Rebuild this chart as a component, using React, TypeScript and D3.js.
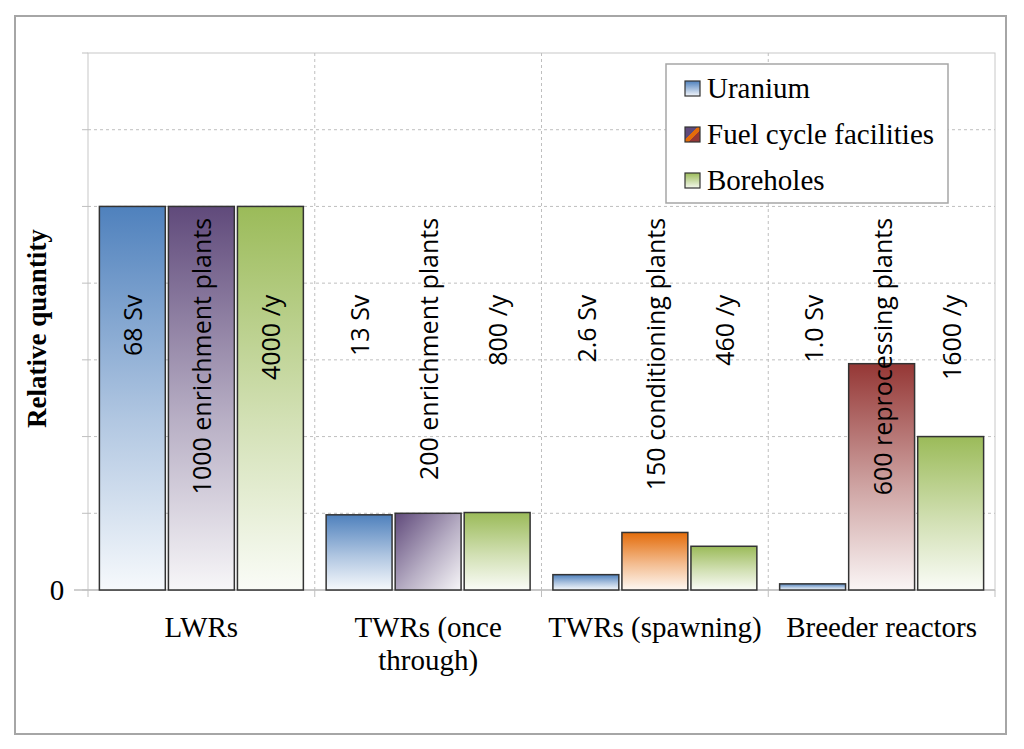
import * as d3 from "d3";

const W = 1024;
const H = 749;

const categories = ["LWRs", "TWRs (once through)", "TWRs (spawning)", "Breeder reactors"];
const categoryLines = [["LWRs"], ["TWRs (once", "through)"], ["TWRs (spawning)"], ["Breeder reactors"]];
const seriesNames = ["Uranium", "Fuel cycle facilities", "Boreholes"];

// relative quantities (gridline units)
const uranium = [5, 0.98, 0.2, 0.08];
const fuelCycle = [5, 1.0, 0.75, 2.95];
const boreholes = [5, 1.01, 0.57, 2.0];

const uraniumLabels = ["68 Sv", "13 Sv", "2.6 Sv", "1.0 Sv"];
const fuelLabels = ["1000 enrichment plants", "200 enrichment plants", "150 conditioning plants", "600 reprocessing plants"];
const boreholeLabels = ["4000 /y", "800 /y", "460 /y", "1600 /y"];

const yTicks = [0, 1, 2, 3, 4, 5, 6, 7];

const fuelColors = ["#604a7b", "#604a7b", "#e46c0a", "#953735"];
const uraniumColor = "#4f81bd";
const boreholeColor = "#9bbb59";

const serif = "'Liberation Serif', 'Times New Roman', serif";
const sans = "'Open Sans', 'Noto Sans', sans-serif";

export default function App() {
  const left = 88;
  const right = 995;
  const top = 53;
  const bottom = 590;

  const x0 = d3.scaleBand<string>().domain(categories).range([left, right]);
  const x1 = d3
    .scaleBand<string>()
    .domain(seriesNames)
    .range([0, x0.bandwidth()])
    .paddingInner(0.045)
    .paddingOuter(0.165);
  const y = d3.scaleLinear().domain([0, 7]).range([bottom, top]);

  const series = [
    { name: seriesNames[0], values: uranium, labels: uraniumLabels, labelTop: 3.85 },
    { name: seriesNames[1], values: fuelCycle, labels: fuelLabels, labelTop: 4.85 },
    { name: seriesNames[2], values: boreholes, labels: boreholeLabels, labelTop: 3.85 },
  ];

  const gradId = (s: number, c: number) => `g-${s}-${c}`;
  const colorFor = (s: number, c: number) =>
    s === 0 ? uraniumColor : s === 2 ? boreholeColor : fuelColors[c];
  const fade = (col: string) => d3.interpolateRgb(col, "#ffffff")(0.95);

  return (
    <svg
      width={W}
      height={H}
      style={{ position: "absolute", left: 0, top: 0, background: "#fff" }}
    >
      <defs>
        {series.map((s, si) =>
          categories.map((_, ci) => {
            const col = colorFor(si, ci);
            const diag = si === 1 && ci === 1;
            return (
              <linearGradient
                key={gradId(si, ci)}
                id={gradId(si, ci)}
                x1="0"
                y1="0"
                x2={diag ? "1" : "0"}
                y2="1"
              >
                <stop offset="0%" stopColor={col} />
                <stop offset="55%" stopColor={d3.interpolateRgb(col, "#ffffff")(0.55)} />
                <stop offset="100%" stopColor={fade(col)} />
              </linearGradient>
            );
          }),
        )}
        <linearGradient id="leg-u" x1="0" y1="0" x2="0" y2="1">
          <stop offset="0%" stopColor={uraniumColor} />
          <stop offset="100%" stopColor="#f3f6fb" />
        </linearGradient>
        <linearGradient id="leg-b" x1="0" y1="0" x2="0" y2="1">
          <stop offset="0%" stopColor={boreholeColor} />
          <stop offset="100%" stopColor="#f5f9ee" />
        </linearGradient>
        <linearGradient id="leg-f" x1="0" y1="0" x2="1" y2="1">
          <stop offset="0%" stopColor="#604a7b" />
          <stop offset="40%" stopColor="#604a7b" />
          <stop offset="40%" stopColor="#e46c0a" />
          <stop offset="62%" stopColor="#e46c0a" />
          <stop offset="62%" stopColor="#953735" />
          <stop offset="100%" stopColor="#953735" />
        </linearGradient>
      </defs>

      {/* outer frame */}
      <rect x={15} y={16} width={991} height={718} fill="#fff" stroke="#a6a6a6" strokeWidth={2} />

      {/* plot area border */}
      <rect x={left} y={top} width={right - left} height={bottom - top} fill="none" stroke="#c8c8c8" strokeWidth={1} />

      {/* horizontal gridlines */}
      {yTicks.slice(1, -1).map((t) => (
        <line
          key={`hg-${t}`}
          x1={left}
          x2={right}
          y1={y(t)}
          y2={y(t)}
          stroke="#bfbfbf"
          strokeDasharray="3,3"
        />
      ))}
      {/* vertical gridlines */}
      {categories.slice(1).map((c) => (
        <line
          key={`vg-${c}`}
          x1={x0(c)!}
          x2={x0(c)!}
          y1={top}
          y2={bottom}
          stroke="#bfbfbf"
          strokeDasharray="3,3"
        />
      ))}

      {/* y ticks */}
      {yTicks.map((t) => (
        <line key={`yt-${t}`} x1={82} x2={left} y1={y(t)} y2={y(t)} stroke="#bfbfbf" />
      ))}
      <text x={57} y={y(0)} dy="0.35em" textAnchor="middle" fontFamily={serif} fontSize={29}>
        0
      </text>

      {/* x axis */}
      <line x1={74} x2={right} y1={bottom} y2={bottom} stroke="#bfbfbf" strokeWidth={1.5} />
      {[...categories.map((c) => x0(c)!), right].map((xv, i) => (
        <line key={`xt-${i}`} x1={xv} x2={xv} y1={bottom} y2={bottom + 7} stroke="#bfbfbf" />
      ))}

      {/* bars */}
      {series.map((s, si) =>
        categories.map((c, ci) => {
          const bx = x0(c)! + x1(s.name)!;
          const by = y(s.values[ci]);
          return (
            <rect
              key={`bar-${si}-${ci}`}
              x={bx}
              y={by}
              width={x1.bandwidth()}
              height={y(0) - by}
              fill={`url(#${gradId(si, ci)})`}
              stroke="#333"
              strokeWidth={1.5}
            />
          );
        }),
      )}

      {/* rotated value labels */}
      {series.map((s, si) =>
        categories.map((c, ci) => {
          const cx = x0(c)! + x1(s.name)! + x1.bandwidth() / 2;
          const ty = y(s.labelTop);
          return (
            <text
              key={`lab-${si}-${ci}`}
              transform={`translate(${cx},${ty}) rotate(-90)`}
              textAnchor="end"
              dominantBaseline="central"
              fontFamily={sans}
              fontSize={25}
              fill="#000"
            >
              {s.labels[ci]}
            </text>
          );
        }),
      )}

      {/* category labels */}
      {categories.map((c, ci) => (
        <text
          key={`cat-${c}`}
          x={x0(c)! + x0.bandwidth() / 2}
          y={637}
          textAnchor="middle"
          fontFamily={serif}
          fontSize={29}
        >
          {categoryLines[ci].map((ln, li) => (
            <tspan key={li} x={x0(c)! + x0.bandwidth() / 2} dy={li === 0 ? 0 : 33}>
              {ln}
            </tspan>
          ))}
        </text>
      ))}

      {/* y axis title */}
      <text
        transform={`translate(37,${(top + bottom) / 2 + 7}) rotate(-90)`}
        textAnchor="middle"
        dominantBaseline="central"
        fontFamily={serif}
        fontSize={27}
        fontWeight="bold"
      >
        Relative quantity
      </text>

      {/* legend */}
      <g>
        <rect x={666} y={64} width={282} height={139} fill="#fff" stroke="#a6a6a6" strokeWidth={1.5} />
        {seriesNames.map((n, i) => {
          const ly = 88 + i * 46;
          const fill = i === 0 ? "url(#leg-u)" : i === 1 ? "url(#leg-f)" : "url(#leg-b)";
          return (
            <g key={`leg-${n}`}>
              <rect x={685} y={ly - 7} width={15} height={15} fill={fill} stroke="#333" strokeWidth={1.2} />
              <text x={707} y={ly} dy="0.35em" fontFamily={serif} fontSize={29}>
                {n}
              </text>
            </g>
          );
        })}
      </g>
    </svg>
  );
}
